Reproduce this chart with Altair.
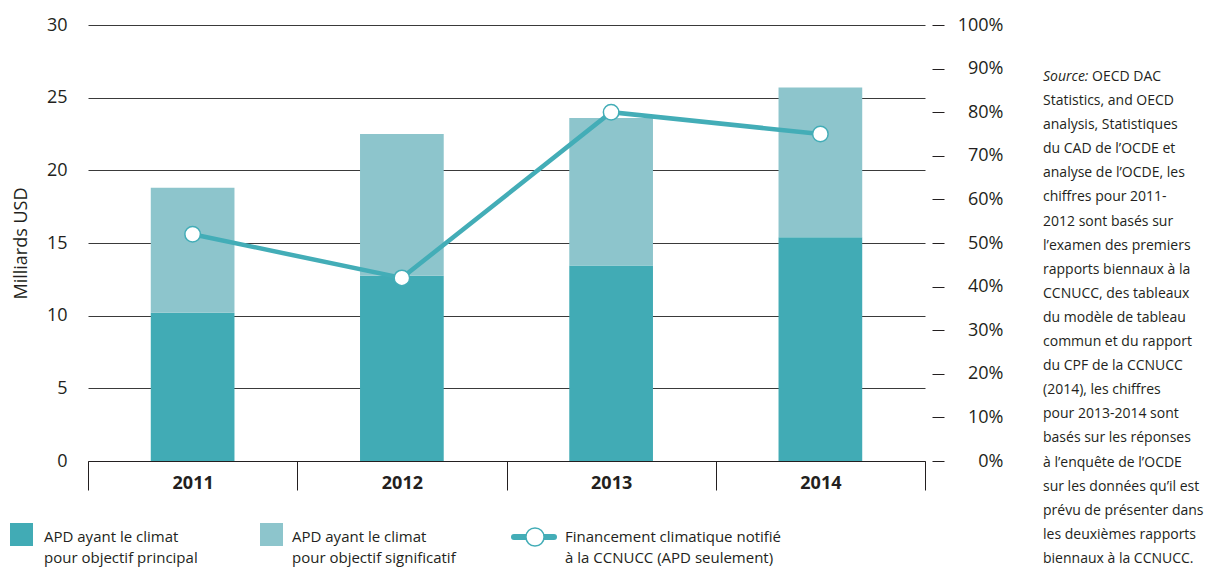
import altair as alt
import pandas as pd

years = ["2011", "2012", "2013", "2014"]
principal = [10.2, 12.75, 13.45, 15.4]
significant = [8.6, 9.75, 10.15, 10.3]
share_notified = [0.52, 0.42, 0.80, 0.75]

left_ticks = [0, 5, 10, 15, 20, 25, 30]
right_ticks = [0, 0.1, 0.2, 0.3, 0.4, 0.5, 0.6, 0.7, 0.8, 0.9, 1.0]

C_PRIN = "#41abb5"
C_SIG = "#8dc5cc"
C_LINE = "#43adb7"
TXT = "#231f20"
FONT = "Open Sans"

rows = []
for y, p, s in zip(years, principal, significant):
    rows.append({"year": y, "kind": "principal", "y0": 0, "y1": p})
    rows.append({"year": y, "kind": "significatif", "y0": p, "y1": p + s})
bars_df = pd.DataFrame(rows)
line_df = pd.DataFrame({"year": years, "share": share_notified})
one = pd.DataFrame({"a": [0]})

W, H = 837, 436

xscale = alt.Scale(domain=years, paddingInner=0, paddingOuter=0)
xaxis = alt.Axis(title=None, labelAngle=0, labelFontWeight="bold", labelFontSize=18,
                 labelFont=FONT, labelColor=TXT, labelPadding=-16,
                 ticks=True, tickBand="extent", tickSize=29, tickColor=TXT, tickWidth=1,
                 domain=True, domainColor=TXT, domainWidth=1.2, grid=False)

bars = alt.Chart(bars_df).mark_bar(width=alt.RelativeBandSize(0.4)).encode(
    x=alt.X("year:N", scale=xscale, axis=xaxis),
    y=alt.Y("y0:Q", scale=alt.Scale(domain=[0, 30], nice=False),
            axis=alt.Axis(values=left_ticks, title="Milliards USD", titleFontSize=18,
                          titleFontWeight="normal", titleFont=FONT, titleColor=TXT,
                          titlePadding=16, labelFontSize=18, labelFont=FONT, labelColor=TXT,
                          labelPadding=21, ticks=False, domain=False, grid=True,
                          gridColor="#3a3a3a", gridWidth=1)),
    y2="y1:Q",
    color=alt.Color("kind:N", scale=alt.Scale(domain=["principal", "significatif"],
                                               range=[C_PRIN, C_SIG]), legend=None),
)

right_axis = alt.Axis(orient="right", values=right_ticks, format=".0%", title=None,
                      offset=7, tickSize=12, tickColor=TXT, tickWidth=1, domain=False,
                      grid=False, labelAlign="right", labelPadding=59, labelFontSize=18,
                      labelFont=FONT, labelColor=TXT)
rscale = alt.Scale(domain=[0, 1], nice=False)

line = alt.Chart(line_df).mark_line(color=C_LINE, strokeWidth=4.5).encode(
    x=alt.X("year:N", scale=xscale), y=alt.Y("share:Q", scale=rscale, axis=right_axis))
pts = alt.Chart(line_df).mark_point(shape="circle", filled=True, fill="white", stroke=C_LINE,
                                     strokeWidth=1.5, size=240, opacity=1).encode(
    x=alt.X("year:N", scale=xscale), y=alt.Y("share:Q", scale=rscale, axis=right_axis))

right_layer = alt.layer(line, pts)

# legend (decoration)
leg_items = []
leg_items.append(alt.Chart(one).mark_rect(color=C_PRIN).encode(
    x=alt.value(-78), x2=alt.value(-55), y=alt.value(498), y2=alt.value(521)))
leg_items.append(alt.Chart(one).mark_rect(color=C_SIG).encode(
    x=alt.value(172), x2=alt.value(195), y=alt.value(498), y2=alt.value(521)))
leg_items.append(alt.Chart(one).mark_rule(color=C_LINE, strokeWidth=6, strokeCap="round").encode(
    x=alt.value(426), x2=alt.value(466), y=alt.value(512)))
leg_items.append(alt.Chart(one).mark_point(shape="circle", filled=True, fill="white", stroke=C_LINE,
                                            strokeWidth=1.5, size=330, opacity=1).encode(
    x=alt.value(447), y=alt.value(512)))
legend_texts = [
    (-44, "APD ayant le climat\npour objectif principal"),
    (204, "APD ayant le climat\npour objectif significatif"),
    (477, "Financement climatique notifié\nà la CCNUCC (APD seulement)"),
]
for xx, t in legend_texts:
    leg_items.append(alt.Chart(one).mark_text(
        text=t, lineBreak="\n", lineHeight=21, align="left", baseline="alphabetic",
        font=FONT, fontSize=15, color=TXT).encode(x=alt.value(xx), y=alt.value(517)))

src_first = "OECD DAC"
src_rest = ("Statistics, and OECD\nanalysis, Statistiques\ndu CAD de l\u2019OCDE et\n"
            "analyse de l\u2019OCDE, les\nchiffres pour 2011-\n2012 sont basés sur\n"
            "l\u2019examen des premiers\nrapports biennaux à la\nCCNUCC, des tableaux\n"
            "du modèle de tableau\ncommun et du rapport\ndu CPF de la CCNUCC\n"
            "(2014), les chiffres\npour 2013-2014 sont\nbasés sur les réponses\n"
            "à l\u2019enquête de l\u2019OCDE\nsur les données qu\u2019il est\n"
            "prévu de présenter dans\nles deuxièmes rapports\nbiennaux à la CCNUCC.")
src = [
    alt.Chart(one).mark_text(text="Source:", fontStyle="italic", align="left", baseline="alphabetic",
                             font=FONT, fontSize=14, color=TXT).encode(x=alt.value(955), y=alt.value(56)),
    alt.Chart(one).mark_text(text=src_first, align="left", baseline="alphabetic",
                             font=FONT, fontSize=14, color=TXT).encode(x=alt.value(1004), y=alt.value(56)),
    alt.Chart(one).mark_text(text=src_rest, lineBreak="\n", lineHeight=24.1, align="left",
                             baseline="alphabetic", font=FONT, fontSize=14, color=TXT).encode(
        x=alt.value(955), y=alt.value(80)),
]

chart = alt.layer(bars, right_layer, *leg_items, *src).resolve_scale(
    y="independent"
).properties(
    width=W, height=H,
    autosize=alt.AutoSizeParams(type="none"),
    padding={"left": 80, "top": 17, "right": 286, "bottom": 107},
).configure(font=FONT).configure_view(strokeWidth=0, stroke="transparent")

chart.save("out.html", embed_options={"renderer": "svg", "actions": False})
